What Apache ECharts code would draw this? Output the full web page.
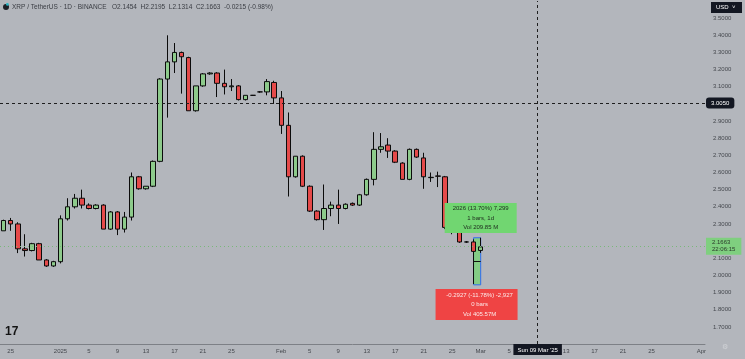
<!DOCTYPE html>
<html>
<head>
<meta charset="utf-8">
<script src="https://cdn.jsdelivr.net/npm/echarts@6/dist/echarts.min.js"></script>
<style>
html,body{margin:0;padding:0;background:#b3b6bc;}
#chart{width:745px;height:359px;}
</style>
</head>
<body>
<div id="chart"></div>
<script>
// ---- categories (daily, Dec 24 2024 .. Apr 1 2025) ----
const dates = [
 '12-24','12-25','12-26','12-27','12-28','12-29','12-30','12-31',
 '01-01','01-02','01-03','01-04','01-05','01-06','01-07','01-08','01-09','01-10',
 '01-11','01-12','01-13','01-14','01-15','01-16','01-17','01-18','01-19','01-20',
 '01-21','01-22','01-23','01-24','01-25','01-26','01-27','01-28','01-29','01-30','01-31',
 '02-01','02-02','02-03','02-04','02-05','02-06','02-07','02-08','02-09','02-10',
 '02-11','02-12','02-13','02-14','02-15','02-16','02-17','02-18','02-19','02-20',
 '02-21','02-22','02-23','02-24','02-25','02-26','02-27','02-28',
 '03-01','03-02','03-03','03-04','03-05','03-06','03-07','03-08','03-09','03-10',
 '03-11','03-12','03-13','03-14','03-15','03-16','03-17','03-18','03-19','03-20',
 '03-21','03-22','03-23','03-24','03-25','03-26','03-27','03-28','03-29','03-30','03-31',
 '04-01'
];
// ---- OHLC values ----
const opens = [
 2.26,2.32,2.30,2.155,2.145,2.185,2.09,2.055,
 2.08,2.33,2.40,2.45,2.41,2.39,2.41,2.27,2.37,2.27,
 2.34,2.575,2.505,2.52,2.665,3.145,3.245,3.30,3.27,2.96,
 3.105,3.175,3.18,3.12,3.10,3.105,3.025,3.05,3.07,3.07,3.125,
 3.035,2.875,2.575,2.695,2.52,2.375,2.325,2.39,2.41,2.39,
 2.42,2.41,2.47,2.56,2.735,2.76,2.725,2.655,2.56,2.735,
 2.685,2.57,2.58,2.575,2.28,2.31,2.195,2.195,
 2.1454
];
const highs = [
 2.325,2.335,2.31,2.24,2.19,2.19,2.095,2.085,
 2.35,2.45,2.475,2.50,2.42,2.415,2.415,2.375,2.375,2.37,
 2.60,2.58,2.52,2.67,3.15,3.40,3.355,3.305,3.275,3.105,
 3.18,3.185,3.185,3.20,3.145,3.11,3.05,3.052,3.075,3.145,3.135,
 3.075,2.95,2.695,2.70,2.525,2.38,2.53,2.43,2.50,2.42,
 2.425,2.475,2.565,2.835,2.83,2.80,2.73,2.66,2.74,2.74,
 2.715,2.60,2.605,2.58,2.33,2.32,2.20,2.21,
 2.2195
];
const lows = [
 2.26,2.26,2.13,2.11,2.14,2.09,2.05,2.05,
 2.07,2.32,2.39,2.39,2.385,2.385,2.27,2.265,2.235,2.25,
 2.32,2.50,2.50,2.515,2.66,2.92,3.18,3.06,2.96,2.955,
 3.10,3.17,3.04,3.055,3.075,3.02,3.02,3.048,3.065,3.05,3.00,
 2.825,2.46,2.57,2.515,2.37,2.32,2.265,2.345,2.30,2.385,
 2.405,2.405,2.465,2.525,2.715,2.685,2.655,2.56,2.555,2.685,
 2.505,2.545,2.515,2.27,2.24,2.19,2.19,1.95,
 2.1314
];
const closes = [
 2.32,2.30,2.155,2.145,2.185,2.09,2.055,2.08,
 2.33,2.40,2.45,2.41,2.39,2.41,2.27,2.37,2.27,2.34,
 2.575,2.505,2.52,2.665,3.145,3.245,3.30,3.275,2.96,3.105,
 3.175,3.18,3.12,3.10,3.105,3.025,3.05,3.05,3.07,3.13,3.035,
 2.875,2.575,2.695,2.52,2.375,2.325,2.39,2.41,2.39,2.415,
 2.41,2.47,2.56,2.735,2.75,2.725,2.66,2.56,2.735,2.69,
 2.575,2.572,2.578,2.28,2.31,2.195,2.195,2.14,
 2.1663
];
// ---- tick labels ----
const xTickLabels = {
 '12-25':'25','01-01':'2025','01-05':'5','01-09':'9','01-13':'13','01-17':'17',
 '01-21':'21','01-25':'25','02-01':'Feb','02-05':'5','02-09':'9','02-13':'13',
 '02-17':'17','02-21':'21','02-25':'25','03-01':'Mar','03-05':'5','03-09':'9',
 '03-13':'13','03-17':'17','03-21':'21','03-25':'25','04-01':'Apr'
};
const priceMin = 1.6, priceMax = 3.6, priceStep = 0.1;

// ---- annotations ----
const titleText = 'XRP / TetherUS · 1D · BINANCE   O2.1454  H2.2195  L2.1314  C2.1663  -0.0215 (-0.98%)';
const lastPrice = 2.1663;
const countdown = '22:06:15';
const crossDate = '03-09';
const crossDateLabel = "Sun 09 Mar '25";
const crossPrice = 3.005;
const measureStart = '02-28', measureEnd = '03-01';
const measureTop = 2.2195, measureBottom = 1.945, measureMid = 2.085;
const upBoxAnchor = ['03-01', 2.335];
const upBoxLines = ['2026 (13.70%) 7,299', '1 bars, 1d', 'Vol 209.85 M'];
const downBoxAnchor = ['02-28', 1.831];
const downBoxLines = ['-0.2927 (-11.78%) -2,927', '0 bars', 'Vol 405.57M'];

const candles = opens.map((o, i) => [o, closes[i], lows[i], highs[i]]);

const chart = echarts.init(document.getElementById('chart'));
const FONT = 'Liberation Sans, Arial, sans-serif';

chart.setOption({
  animation: false,
  backgroundColor: '#b3b6bc',
  axisPointer: { triggerOn: 'none' },
  grid: { left: 0, right: 40, top: 1, bottom: 15 },
  xAxis: {
    type: 'category',
    data: dates,
    boundaryGap: true,
    axisLine: { show: true, lineStyle: { color: '#7d8086', width: 1 } },
    axisTick: { show: false },
    splitLine: { show: false },
    axisLabel: {
      interval: (idx, val) => xTickLabels[val] !== undefined,
      formatter: (val) => xTickLabels[val] || '',
      color: '#45484e', fontSize: 6, fontFamily: FONT, margin: 4
    },
    axisPointer: {
      show: true, status: 'show', type: 'line', value: dates.indexOf(crossDate),
      triggerTooltip: false,
      lineStyle: { color: '#1e1e1e', type: [3, 3], width: 1 },
      label: {
        show: true, formatter: () => crossDateLabel,
        backgroundColor: '#131722', color: '#ffffff', fontSize: 6, fontFamily: FONT,
        padding: [3, 4, 2, 4], margin: 0, borderRadius: 0
      }
    }
  },
  yAxis: {
    type: 'value',
    position: 'right',
    min: priceMin, max: priceMax, interval: priceStep,
    axisLine: { show: false },
    axisTick: { show: false },
    splitLine: { show: false },
    axisLabel: {
      formatter: (v) => v.toFixed(4),
      showMinLabel: false, showMaxLabel: false,
      color: '#45484e', fontSize: 6, fontFamily: FONT, margin: 8
    },
    axisPointer: {
      show: true, status: 'show', type: 'line', value: crossPrice,
      triggerTooltip: false,
      lineStyle: { color: '#1e1e1e', type: [3, 3], width: 1 },
      label: {
        show: true, formatter: (p) => Number(p.value).toFixed(4),
        backgroundColor: '#131722', color: '#ffffff', fontSize: 6, fontFamily: FONT,
        padding: [3, 5, 2, 5], margin: 1
      }
    }
  },
  series: [{
    type: 'candlestick',
    data: candles,
    barWidth: 5,
    itemStyle: {
      color: '#8dca8b', color0: '#e54a4a',
      borderColor: '#0b0b0b', borderColor0: '#0b0b0b', borderWidth: 1
    },
    markArea: {
      silent: true,
      itemStyle: { color: '#84cc84', borderColor: '#2f6cf0', borderWidth: 1 },
      data: [[
        { coord: [measureStart, measureTop] },
        { coord: [measureEnd, measureBottom] }
      ]]
    },
    markLine: {
      silent: true, symbol: 'none', animation: false,
      data: [
        {
          yAxis: lastPrice,
          lineStyle: { color: '#79b879', type: [1, 3], width: 1 },
          label: {
            show: true, position: 'end', distance: 1,
            formatter: lastPrice.toFixed(4) + '\n' + countdown,
            backgroundColor: '#7fcf7f', color: '#2b3a2b', fontSize: 6, fontFamily: FONT,
            padding: [2, 6, 1, 6], lineHeight: 7
          }
        },
        [
          { coord: [measureStart, measureMid], lineStyle: { color: '#111', type: 'solid', width: 1 }, label: { show: false } },
          { coord: [measureEnd, measureMid] }
        ]
      ]
    },
    markPoint: {
      silent: true,
      data: [
        {
          coord: upBoxAnchor, symbol: 'rect', symbolSize: [72, 30],
          itemStyle: { color: '#71d671' },
          label: {
            show: true, position: 'inside', formatter: upBoxLines.join('\n'),
            color: '#1d2a1d', fontSize: 6, fontFamily: FONT, lineHeight: 9.5, align: 'center'
          }
        },
        {
          coord: downBoxAnchor, symbol: 'rect', symbolSize: [82, 31], symbolOffset: [3, 0],
          itemStyle: { color: '#ef4444' },
          label: {
            show: true, position: 'inside', formatter: downBoxLines.join('\n'), offset: [3, 0],
            color: '#fbe9e9', fontSize: 6, fontFamily: FONT, lineHeight: 9.5, align: 'center'
          }
        }
      ]
    }
  }],
  graphic: [
    { type: 'circle', left: 3, top: 4, shape: { r: 3 }, style: { fill: '#1c1f26' } },
    { type: 'circle', left: 6, top: 3, shape: { r: 1.4 }, style: { fill: '#27b3c2' } },
    { type: 'text', left: 12, top: 4, style: { text: titleText, fill: '#3a3d43', font: '6.5px ' + FONT } },
    { type: 'rect', left: 711, top: 2, shape: { width: 31, height: 11 }, style: { fill: '#131722' } },
    { type: 'text', left: 716, top: 4.5, style: { text: 'USD  ˅', fill: '#ffffff', font: '6px ' + FONT } },
    { type: 'text', left: 5, top: 326, style: { text: '17', fill: '#131313', font: 'bold 12px ' + FONT } },
    { type: 'text', left: 722, top: 344, style: { text: '⚙', fill: '#d0d2d6', font: '7px DejaVu Sans' } }
  ]
});
</script>
</body>
</html>
